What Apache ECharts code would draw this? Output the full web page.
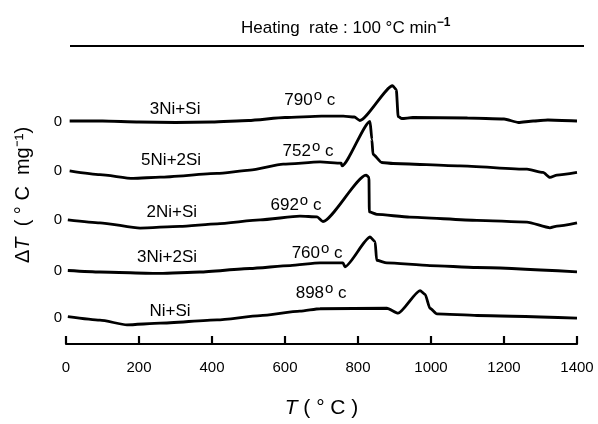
<!DOCTYPE html>
<html>
<head>
<meta charset="utf-8">
<script src="https://cdn.jsdelivr.net/npm/echarts@6/dist/echarts.min.js"></script>
<style>html,body{margin:0;padding:0;background:#fff}#c{width:598px;height:424px}</style>
</head>
<body>
<div id="c"></div>
<script>
// Temperature ticks
const xTicks = [0, 200, 400, 600, 800, 1000, 1200, 1400];
// Curve names (top to bottom) and baseline offsets (arbitrary ΔT units)
const names = ['3Ni+Si', '5Ni+2Si', '2Ni+Si', '3Ni+2Si', 'Ni+Si'];
const offsets = [224, 174, 125, 74, 26];
const onsetLabels = ['790', '752', '692', '760', '898'];

// 3Ni+Si
const t1 = [10, 100, 200, 300, 400, 500, 600, 700, 760, 790, 805, 895, 905, 910, 920, 950, 1100, 1200, 1240, 1280, 1320, 1400];
const d1 = [0.5, 0.5, -0.5, -1, -0.5, 1, 4, 5.5, 5.5, 4.5, 1, 36, 32, 5, 3, 4, 3.5, 2.5, -1, 0.5, 1.5, 0.5];
// 5Ni+2Si
const t2 = [10, 93, 184, 258, 414, 504, 595, 696, 754, 756, 833, 838, 841, 865, 896, 1079, 1263, 1307, 1326, 1345, 1400];
const d2 = [0.3, -3.5, -7.3, -6, -2.3, 1, 7, 9.3, 8, 5.3, 50, 32, 17, 8.7, 7.7, 5.3, 2, -1.3, -6.3, -4, -1.3];
// 2Ni+Si
const t3 = [5, 93, 203, 312, 414, 532, 641, 688, 704, 822, 830, 831, 852, 942, 1126, 1263, 1326, 1345, 1400];
const d3 = [0, -3, -8.3, -6.5, -4, 0, 3.7, 3, -1.7, 45, 43, 8, 5.5, 2.7, -0.5, -2.3, -8, -6.3, -3];
// 3Ni+2Si
const t4 = [5, 93, 258, 367, 504, 614, 696, 759, 764, 833, 847, 851, 879, 997, 1125, 1400];
const d4 = [0, -1.5, -3, -1.5, 2, 5, 7.7, 7.7, 3.7, 33.7, 29, 10.3, 7.7, 5, 3, -1.3];
// Ni+Si
const t5 = [5, 93, 167, 258, 414, 532, 641, 696, 879, 910, 970, 984, 997, 1016, 1126, 1400];
const d5 = [1.5, -2, -6.7, -5, -1.7, 2.5, 7, 9.5, 10, 5, 27.7, 24, 10, 4.3, 2.7, 0];

// Label anchors [T, ΔT above baseline]
const nameLabelPos = [[299, 12], [288, 10.5], [290, 8], [277, 13.5], [285, 7]];
const onsetLabelPos = [[668, 21], [663, 20], [630, 15], [688, 17.5], [699, 25]];

const temps = [t1, t2, t3, t4, t5];
const deltas = [d1, d2, d3, d4, d5];

const FONT = 'Liberation Sans, Arial, sans-serif';

const series = names.map((nm, k) => ({
  name: nm,
  type: 'line',
  showSymbol: false,
  symbol: 'none',
  smooth: 0.2,
  smoothMonotone: 'x',
  lineStyle: { color: '#000', width: 2.8 },
  data: temps[k].map((t, i) => [t, offsets[k] + deltas[k][i]]),
  markPoint: {
    symbol: 'circle',
    symbolSize: 0,
    silent: true,
    data: [
      { coord: [nameLabelPos[k][0], offsets[k] + nameLabelPos[k][1]],
        label: { show: true, position: 'inside', formatter: nm, color: '#000', fontSize: 17, fontFamily: FONT } },
      { coord: [onsetLabelPos[k][0], offsets[k] + onsetLabelPos[k][1]],
        label: { show: true, position: 'inside', formatter: '{n|' + onsetLabels[k] + '}{s|o}{n| c}',
          rich: { n: { fontSize: 17, fontFamily: FONT, color: '#000' },
                  s: { fontSize: 15, fontFamily: FONT, color: '#000', verticalAlign: 'top', padding: [0, 0, 9, 1] } } } }
    ]
  }
}));

const chart = echarts.init(document.getElementById('c'), null, { renderer: 'canvas' });
chart.setOption({
  animation: false,
  backgroundColor: '#fff',
  title: {
    text: '{t|Heating  rate : 100 °C min}{s|−1}',
    left: 236, top: 12,
    textStyle: {
      fontWeight: 'normal',
      rich: {
        t: { fontSize: 17, fontFamily: FONT, color: '#000', fontWeight: 'normal' },
        s: { fontSize: 12, fontFamily: FONT, color: '#000', fontWeight: 'bold', verticalAlign: 'top', padding: [0, 0, 10, 0] }
      }
    }
  },
  graphic: [
    { type: 'line', shape: { x1: 70, y1: 46, x2: 584, y2: 46 }, style: { stroke: '#000', lineWidth: 2.2 } }
  ],
  grid: { left: 66, right: 21, top: 46, bottom: 78 },
  xAxis: {
    type: 'value', min: 0, max: 1400, interval: 200,
    splitLine: { show: false },
    axisLine: { lineStyle: { color: '#000', width: 2.2 } },
    axisTick: { inside: true, length: 8, lineStyle: { color: '#000', width: 2.2 } },
    axisLabel: { color: '#000', fontSize: 15, fontFamily: FONT, margin: 16,
      customValues: xTicks, formatter: v => String(v) },
    name: '{i|T} ( ° C )',
    nameLocation: 'middle', nameGap: 54,
    nameTextStyle: { fontSize: 21, fontFamily: FONT, color: '#000',
      rich: { i: { fontStyle: 'italic', fontSize: 21, fontFamily: FONT, color: '#000' } } }
  },
  yAxis: {
    type: 'value', min: 0, max: 300,
    splitLine: { show: false },
    axisLine: { show: false },
    axisTick: { show: false },
    axisLabel: { show: true, customValues: offsets, formatter: () => '0', color: '#000', fontSize: 15, fontFamily: FONT, margin: 4 },
    name: 'Δ{i|T}  ( ° C  mg⁻¹)',
    nameLocation: 'middle', nameGap: 33, nameRotate: 90,
    nameTextStyle: { fontSize: 20, fontFamily: FONT, color: '#000',
      rich: { i: { fontStyle: 'italic', fontSize: 20, fontFamily: FONT, color: '#000' } } }
  },
  series: series
});
</script>
</body>
</html>
